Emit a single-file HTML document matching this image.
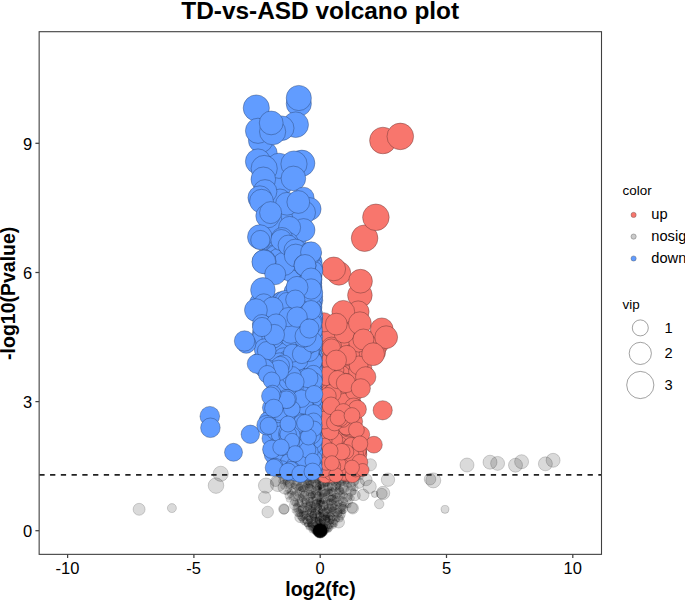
<!DOCTYPE html>
<html><head><meta charset="utf-8"><title>TD-vs-ASD volcano plot</title>
<style>html,body{margin:0;padding:0;background:#fff;}body{width:685px;height:601px;overflow:hidden;font-family:"Liberation Sans",sans-serif;}svg{display:block;}</style></head>
<body>
<svg width="685" height="601" viewBox="0 0 685 601">
<rect width="685" height="601" fill="#fff"/>
<defs><clipPath id="cp"><rect x="39.15" y="31.7" width="562.35" height="522.65"/></clipPath></defs>
<g clip-path="url(#cp)">
<g fill="#000" fill-opacity="0.145" stroke="#000" stroke-opacity="0.3" stroke-width="0.55"><circle cx="139.1" cy="509.3" r="6.0"/><circle cx="171.9" cy="508.1" r="4.5"/><circle cx="267.7" cy="512.0" r="5.8"/><circle cx="283.8" cy="509.0" r="5.2"/><circle cx="284.2" cy="509.3" r="4.8"/><circle cx="275.6" cy="481.3" r="5.2"/><circle cx="285.0" cy="487.1" r="7.0"/><circle cx="300.0" cy="517.4" r="5.2"/><circle cx="220.7" cy="473.8" r="7.6"/><circle cx="216.0" cy="485.6" r="7.8"/><circle cx="266.0" cy="485.6" r="7.6"/><circle cx="264.6" cy="497.3" r="6.1"/><circle cx="277.9" cy="484.0" r="7.6"/></g>
<g fill="#000" fill-opacity="0.145" stroke="#000" stroke-opacity="0.19" stroke-width="0.5"><circle cx="316.5" cy="526.0" r="1.3"/><circle cx="307.2" cy="483.7" r="3.9"/><circle cx="317.9" cy="506.9" r="3.6"/><circle cx="312.8" cy="488.6" r="3.3"/><circle cx="301.2" cy="496.8" r="2.8"/><circle cx="310.2" cy="494.2" r="3.9"/><circle cx="325.7" cy="512.3" r="3.4"/><circle cx="326.2" cy="526.4" r="2.3"/><circle cx="354.0" cy="476.7" r="3.9"/><circle cx="330.0" cy="501.9" r="3.7"/><circle cx="337.6" cy="491.2" r="3.1"/><circle cx="304.0" cy="497.7" r="3.0"/><circle cx="320.1" cy="493.3" r="1.1"/><circle cx="320.2" cy="526.2" r="1.2"/><circle cx="318.3" cy="487.0" r="3.3"/><circle cx="313.7" cy="520.5" r="2.9"/><circle cx="345.5" cy="488.0" r="6.6"/><circle cx="335.3" cy="498.7" r="5.1"/><circle cx="353.3" cy="491.8" r="3.2"/><circle cx="312.7" cy="508.1" r="4.5"/><circle cx="320.0" cy="527.0" r="1.4"/><circle cx="310.2" cy="484.4" r="3.9"/><circle cx="311.5" cy="495.8" r="3.3"/><circle cx="287.9" cy="483.5" r="3.2"/><circle cx="341.0" cy="478.3" r="6.2"/><circle cx="301.7" cy="509.4" r="3.8"/><circle cx="344.3" cy="497.8" r="4.8"/><circle cx="309.7" cy="524.7" r="2.3"/><circle cx="326.8" cy="478.0" r="3.6"/><circle cx="321.7" cy="520.8" r="3.2"/><circle cx="330.3" cy="478.5" r="3.4"/><circle cx="337.8" cy="512.7" r="4.5"/><circle cx="285.6" cy="479.2" r="5.4"/><circle cx="320.0" cy="488.2" r="1.5"/><circle cx="320.2" cy="519.1" r="3.1"/><circle cx="325.6" cy="483.5" r="2.9"/><circle cx="320.3" cy="525.3" r="1.1"/><circle cx="311.1" cy="520.4" r="1.9"/><circle cx="315.4" cy="524.1" r="2.7"/><circle cx="315.6" cy="527.9" r="3.1"/><circle cx="311.7" cy="494.7" r="3.8"/><circle cx="313.8" cy="514.4" r="3.7"/><circle cx="355.2" cy="488.0" r="3.1"/><circle cx="303.3" cy="491.5" r="6.2"/><circle cx="338.6" cy="503.3" r="3.4"/><circle cx="342.5" cy="478.6" r="7.3"/><circle cx="320.6" cy="495.3" r="3.7"/><circle cx="309.1" cy="518.7" r="3.0"/><circle cx="313.2" cy="510.1" r="2.9"/><circle cx="309.6" cy="524.6" r="2.2"/><circle cx="308.8" cy="521.5" r="2.7"/><circle cx="324.8" cy="530.9" r="2.5"/><circle cx="320.4" cy="485.1" r="3.7"/><circle cx="319.6" cy="531.3" r="1.2"/><circle cx="296.3" cy="484.3" r="5.2"/><circle cx="319.8" cy="488.4" r="1.5"/><circle cx="330.3" cy="515.9" r="3.6"/><circle cx="324.2" cy="517.9" r="3.3"/><circle cx="321.5" cy="517.7" r="3.1"/><circle cx="321.1" cy="532.1" r="2.8"/><circle cx="320.4" cy="487.5" r="1.3"/><circle cx="320.0" cy="488.1" r="1.2"/><circle cx="326.0" cy="523.5" r="3.1"/><circle cx="305.1" cy="504.9" r="2.2"/><circle cx="326.1" cy="532.3" r="1.1"/><circle cx="301.9" cy="519.8" r="2.4"/><circle cx="322.4" cy="501.5" r="2.5"/><circle cx="338.8" cy="511.0" r="3.4"/><circle cx="313.2" cy="495.0" r="3.0"/><circle cx="336.1" cy="479.7" r="4.3"/><circle cx="332.0" cy="501.9" r="3.2"/><circle cx="317.0" cy="530.2" r="1.6"/><circle cx="319.1" cy="525.2" r="2.5"/><circle cx="317.3" cy="492.2" r="2.5"/><circle cx="334.1" cy="486.5" r="3.3"/><circle cx="353.6" cy="480.6" r="5.6"/><circle cx="328.5" cy="523.4" r="2.7"/><circle cx="347.2" cy="505.5" r="2.2"/><circle cx="309.0" cy="486.9" r="3.9"/><circle cx="325.0" cy="489.5" r="6.5"/><circle cx="297.0" cy="506.1" r="3.4"/><circle cx="312.4" cy="527.6" r="2.8"/><circle cx="295.8" cy="495.8" r="5.3"/><circle cx="310.7" cy="524.2" r="2.5"/><circle cx="316.5" cy="510.5" r="3.7"/><circle cx="340.8" cy="489.2" r="2.5"/><circle cx="308.5" cy="527.3" r="2.7"/><circle cx="312.8" cy="480.6" r="2.9"/><circle cx="310.9" cy="500.2" r="2.9"/><circle cx="333.9" cy="507.1" r="3.5"/><circle cx="324.1" cy="499.8" r="3.5"/><circle cx="307.9" cy="500.9" r="2.4"/><circle cx="313.9" cy="484.5" r="2.4"/><circle cx="325.0" cy="529.0" r="3.2"/><circle cx="340.8" cy="516.5" r="3.7"/><circle cx="343.8" cy="511.7" r="2.2"/><circle cx="291.1" cy="477.0" r="2.1"/><circle cx="305.7" cy="475.1" r="3.3"/><circle cx="290.8" cy="494.3" r="3.4"/><circle cx="343.0" cy="509.0" r="4.7"/><circle cx="304.9" cy="516.2" r="2.5"/><circle cx="288.1" cy="490.3" r="2.7"/><circle cx="326.6" cy="516.2" r="3.7"/><circle cx="338.1" cy="486.8" r="3.0"/><circle cx="333.6" cy="514.2" r="3.0"/><circle cx="334.2" cy="475.2" r="3.1"/><circle cx="317.0" cy="524.8" r="2.2"/><circle cx="291.7" cy="497.4" r="2.9"/><circle cx="335.8" cy="513.9" r="2.4"/><circle cx="320.1" cy="504.8" r="1.0"/><circle cx="296.9" cy="507.8" r="4.1"/><circle cx="288.3" cy="495.9" r="3.4"/><circle cx="342.9" cy="502.0" r="4.7"/><circle cx="331.1" cy="524.8" r="2.4"/><circle cx="334.4" cy="523.3" r="3.7"/><circle cx="336.8" cy="506.5" r="2.1"/><circle cx="332.6" cy="527.0" r="1.3"/><circle cx="311.1" cy="525.3" r="2.4"/><circle cx="319.6" cy="530.9" r="6.4"/><circle cx="339.8" cy="479.5" r="6.9"/><circle cx="293.6" cy="485.9" r="2.9"/><circle cx="320.4" cy="488.7" r="1.3"/><circle cx="320.0" cy="513.4" r="1.2"/><circle cx="325.8" cy="506.7" r="2.4"/><circle cx="315.0" cy="475.3" r="5.1"/><circle cx="325.9" cy="517.5" r="3.0"/><circle cx="311.9" cy="478.2" r="4.1"/><circle cx="331.3" cy="509.0" r="3.2"/><circle cx="313.4" cy="525.2" r="2.2"/><circle cx="341.4" cy="488.0" r="6.1"/><circle cx="299.7" cy="516.2" r="2.9"/><circle cx="330.6" cy="507.4" r="3.3"/><circle cx="306.7" cy="513.0" r="2.5"/><circle cx="313.0" cy="526.6" r="1.7"/><circle cx="332.2" cy="510.6" r="3.1"/><circle cx="318.2" cy="502.9" r="2.2"/><circle cx="320.0" cy="495.8" r="1.2"/><circle cx="295.6" cy="503.0" r="3.4"/><circle cx="313.8" cy="520.9" r="1.9"/><circle cx="300.0" cy="503.4" r="3.3"/><circle cx="340.3" cy="491.4" r="3.5"/><circle cx="294.4" cy="505.0" r="5.1"/><circle cx="314.0" cy="517.6" r="2.8"/><circle cx="330.5" cy="475.1" r="2.6"/><circle cx="343.9" cy="495.2" r="3.4"/><circle cx="331.6" cy="517.6" r="3.7"/><circle cx="329.8" cy="495.5" r="6.0"/><circle cx="315.0" cy="504.6" r="4.6"/><circle cx="325.5" cy="503.0" r="2.8"/><circle cx="320.4" cy="531.3" r="2.5"/><circle cx="311.8" cy="530.1" r="2.9"/><circle cx="308.1" cy="527.4" r="1.7"/><circle cx="325.2" cy="494.9" r="2.1"/><circle cx="301.8" cy="521.6" r="1.8"/><circle cx="323.4" cy="528.5" r="2.3"/><circle cx="310.9" cy="496.3" r="3.7"/><circle cx="296.5" cy="475.5" r="4.2"/><circle cx="298.9" cy="503.1" r="4.1"/><circle cx="320.3" cy="529.1" r="1.6"/><circle cx="313.0" cy="531.6" r="1.5"/><circle cx="320.4" cy="530.9" r="5.0"/><circle cx="316.9" cy="499.3" r="4.8"/><circle cx="295.7" cy="495.1" r="3.5"/><circle cx="320.4" cy="503.5" r="3.2"/><circle cx="329.5" cy="522.7" r="2.4"/><circle cx="293.0" cy="475.7" r="4.2"/><circle cx="319.9" cy="530.2" r="3.2"/><circle cx="326.5" cy="500.5" r="3.6"/><circle cx="321.6" cy="509.1" r="3.7"/><circle cx="299.2" cy="486.8" r="3.6"/><circle cx="311.0" cy="482.4" r="2.9"/><circle cx="325.9" cy="487.0" r="2.5"/><circle cx="320.2" cy="501.0" r="3.5"/><circle cx="333.3" cy="516.8" r="2.2"/><circle cx="328.6" cy="492.6" r="4.1"/><circle cx="308.5" cy="481.8" r="3.6"/><circle cx="329.8" cy="529.7" r="2.0"/><circle cx="323.6" cy="532.4" r="3.1"/><circle cx="320.2" cy="501.3" r="1.0"/><circle cx="313.9" cy="529.4" r="2.9"/><circle cx="317.8" cy="483.8" r="3.2"/><circle cx="320.2" cy="512.4" r="1.3"/><circle cx="320.4" cy="529.1" r="0.9"/><circle cx="329.8" cy="513.4" r="2.8"/><circle cx="283.8" cy="486.1" r="3.3"/><circle cx="320.4" cy="513.2" r="1.2"/><circle cx="322.7" cy="523.7" r="2.6"/><circle cx="300.8" cy="518.3" r="2.3"/><circle cx="301.9" cy="513.6" r="2.7"/><circle cx="320.3" cy="494.2" r="1.1"/><circle cx="306.3" cy="521.2" r="3.0"/><circle cx="320.3" cy="531.0" r="5.9"/><circle cx="325.3" cy="478.8" r="3.0"/><circle cx="326.0" cy="492.2" r="3.6"/><circle cx="293.1" cy="490.8" r="4.3"/><circle cx="303.7" cy="485.8" r="6.3"/><circle cx="323.9" cy="524.1" r="2.5"/><circle cx="323.0" cy="524.6" r="1.9"/><circle cx="297.4" cy="497.1" r="2.9"/><circle cx="342.8" cy="511.4" r="2.6"/><circle cx="288.9" cy="499.6" r="2.7"/><circle cx="342.4" cy="506.2" r="3.8"/><circle cx="317.1" cy="519.2" r="2.3"/><circle cx="300.2" cy="479.4" r="2.8"/><circle cx="322.8" cy="526.6" r="1.8"/><circle cx="318.6" cy="521.2" r="3.5"/><circle cx="307.7" cy="480.8" r="4.2"/><circle cx="320.0" cy="521.4" r="0.9"/><circle cx="325.7" cy="517.7" r="2.9"/><circle cx="315.9" cy="531.6" r="3.5"/><circle cx="304.5" cy="476.2" r="2.4"/><circle cx="315.6" cy="532.1" r="0.9"/><circle cx="320.4" cy="530.7" r="6.5"/><circle cx="346.2" cy="488.8" r="3.0"/><circle cx="320.1" cy="531.5" r="2.4"/><circle cx="323.8" cy="518.3" r="2.7"/><circle cx="327.1" cy="484.2" r="2.4"/><circle cx="286.2" cy="492.5" r="2.5"/><circle cx="336.1" cy="507.2" r="2.5"/><circle cx="289.2" cy="475.9" r="3.5"/><circle cx="304.9" cy="510.2" r="4.6"/><circle cx="314.4" cy="524.1" r="2.6"/><circle cx="319.5" cy="503.6" r="3.4"/><circle cx="307.7" cy="513.8" r="3.1"/><circle cx="304.1" cy="493.8" r="3.0"/><circle cx="319.8" cy="530.1" r="7.2"/><circle cx="334.8" cy="495.8" r="2.6"/><circle cx="318.9" cy="514.4" r="2.9"/><circle cx="334.7" cy="504.7" r="2.9"/><circle cx="331.5" cy="507.3" r="4.6"/><circle cx="332.6" cy="510.4" r="3.6"/><circle cx="352.2" cy="478.7" r="2.4"/><circle cx="319.0" cy="514.9" r="3.5"/><circle cx="331.2" cy="521.5" r="2.4"/><circle cx="323.8" cy="521.6" r="2.1"/><circle cx="300.3" cy="477.2" r="5.4"/><circle cx="338.9" cy="498.3" r="2.4"/><circle cx="307.8" cy="517.9" r="3.0"/><circle cx="309.2" cy="508.3" r="3.2"/><circle cx="310.0" cy="520.6" r="2.8"/><circle cx="323.7" cy="527.4" r="1.4"/><circle cx="332.0" cy="479.3" r="5.3"/><circle cx="315.6" cy="483.1" r="4.3"/><circle cx="320.3" cy="526.3" r="1.4"/><circle cx="327.0" cy="514.7" r="3.2"/><circle cx="320.1" cy="523.0" r="0.9"/><circle cx="305.5" cy="501.4" r="3.4"/><circle cx="323.5" cy="531.5" r="2.5"/><circle cx="339.4" cy="490.5" r="4.3"/><circle cx="320.0" cy="530.7" r="6.7"/><circle cx="327.4" cy="480.1" r="3.6"/><circle cx="336.8" cy="520.0" r="2.6"/><circle cx="330.5" cy="517.6" r="2.4"/><circle cx="320.0" cy="489.7" r="1.2"/><circle cx="339.6" cy="518.5" r="3.7"/><circle cx="315.5" cy="524.3" r="2.5"/><circle cx="328.2" cy="510.0" r="3.3"/><circle cx="335.4" cy="498.9" r="3.4"/><circle cx="350.9" cy="490.9" r="5.2"/><circle cx="334.1" cy="482.7" r="3.3"/><circle cx="322.8" cy="500.6" r="2.9"/><circle cx="318.3" cy="479.0" r="4.4"/><circle cx="342.0" cy="478.7" r="3.8"/><circle cx="323.8" cy="475.4" r="4.5"/><circle cx="320.8" cy="514.8" r="2.8"/><circle cx="305.6" cy="501.9" r="4.8"/><circle cx="320.2" cy="531.3" r="6.2"/><circle cx="302.4" cy="508.9" r="4.4"/><circle cx="303.3" cy="523.4" r="1.6"/><circle cx="329.7" cy="526.5" r="2.4"/><circle cx="317.6" cy="526.9" r="2.3"/><circle cx="314.4" cy="520.6" r="3.7"/><circle cx="333.7" cy="525.5" r="3.0"/><circle cx="320.7" cy="530.5" r="3.7"/><circle cx="308.9" cy="477.4" r="2.8"/><circle cx="319.2" cy="478.4" r="2.8"/><circle cx="302.6" cy="475.6" r="2.1"/><circle cx="320.0" cy="531.1" r="7.2"/><circle cx="334.3" cy="524.5" r="2.1"/><circle cx="325.1" cy="526.1" r="2.6"/><circle cx="341.5" cy="514.2" r="4.0"/><circle cx="290.0" cy="491.4" r="2.9"/><circle cx="356.7" cy="476.9" r="3.7"/><circle cx="280.0" cy="476.0" r="2.2"/><circle cx="317.5" cy="516.5" r="2.4"/><circle cx="307.4" cy="524.0" r="3.1"/><circle cx="330.8" cy="527.3" r="1.8"/><circle cx="331.1" cy="521.3" r="2.6"/><circle cx="316.2" cy="528.2" r="1.7"/><circle cx="321.9" cy="532.7" r="2.7"/><circle cx="281.1" cy="481.1" r="2.6"/><circle cx="316.8" cy="531.6" r="3.0"/><circle cx="319.8" cy="530.8" r="3.2"/><circle cx="320.0" cy="530.5" r="6.3"/><circle cx="350.1" cy="501.7" r="2.6"/><circle cx="294.0" cy="511.0" r="2.1"/><circle cx="286.3" cy="475.6" r="3.0"/><circle cx="319.6" cy="523.5" r="1.7"/><circle cx="317.2" cy="509.0" r="2.7"/><circle cx="313.5" cy="532.5" r="1.4"/><circle cx="320.2" cy="508.1" r="1.3"/><circle cx="320.4" cy="501.1" r="1.2"/><circle cx="318.8" cy="495.7" r="4.2"/><circle cx="313.0" cy="514.9" r="3.7"/><circle cx="308.4" cy="506.8" r="3.6"/><circle cx="307.7" cy="517.3" r="3.2"/><circle cx="313.2" cy="523.7" r="3.6"/><circle cx="329.3" cy="501.8" r="2.7"/><circle cx="324.3" cy="506.6" r="3.5"/><circle cx="308.8" cy="515.4" r="2.4"/><circle cx="314.5" cy="506.8" r="3.5"/><circle cx="319.5" cy="530.7" r="3.1"/><circle cx="299.8" cy="499.9" r="3.0"/><circle cx="285.3" cy="480.4" r="2.5"/><circle cx="341.9" cy="493.7" r="3.3"/><circle cx="319.6" cy="524.9" r="2.3"/><circle cx="319.4" cy="488.9" r="3.4"/><circle cx="312.0" cy="504.4" r="3.2"/><circle cx="320.6" cy="506.7" r="1.5"/><circle cx="305.7" cy="509.5" r="2.8"/><circle cx="317.7" cy="519.8" r="2.8"/><circle cx="298.1" cy="493.0" r="3.6"/><circle cx="315.7" cy="519.8" r="2.3"/><circle cx="313.8" cy="517.2" r="3.4"/><circle cx="284.3" cy="475.1" r="2.3"/><circle cx="330.5" cy="486.7" r="3.7"/><circle cx="301.9" cy="491.7" r="2.8"/><circle cx="320.2" cy="512.5" r="2.7"/><circle cx="290.2" cy="483.3" r="5.0"/><circle cx="328.6" cy="514.7" r="2.3"/><circle cx="327.3" cy="474.9" r="2.4"/><circle cx="329.9" cy="491.6" r="2.4"/><circle cx="330.7" cy="528.3" r="2.3"/><circle cx="303.0" cy="489.0" r="2.7"/><circle cx="320.3" cy="530.4" r="1.4"/><circle cx="321.6" cy="487.4" r="3.9"/><circle cx="310.3" cy="528.3" r="2.2"/><circle cx="327.8" cy="529.5" r="1.2"/><circle cx="343.1" cy="505.3" r="3.5"/><circle cx="297.9" cy="512.3" r="4.3"/><circle cx="311.2" cy="529.9" r="1.5"/><circle cx="322.6" cy="531.8" r="3.1"/><circle cx="309.7" cy="503.3" r="3.6"/><circle cx="320.4" cy="531.2" r="6.7"/><circle cx="321.9" cy="484.7" r="3.8"/><circle cx="309.4" cy="501.4" r="4.0"/><circle cx="347.9" cy="497.5" r="4.1"/><circle cx="317.3" cy="502.5" r="3.4"/><circle cx="320.8" cy="511.0" r="2.5"/><circle cx="294.4" cy="501.8" r="3.9"/><circle cx="326.3" cy="508.1" r="2.6"/><circle cx="319.7" cy="528.2" r="1.2"/><circle cx="313.5" cy="512.2" r="2.7"/><circle cx="337.1" cy="503.3" r="2.6"/><circle cx="346.0" cy="483.5" r="3.0"/><circle cx="316.2" cy="495.8" r="5.2"/><circle cx="320.3" cy="515.6" r="1.1"/><circle cx="298.3" cy="484.6" r="6.3"/><circle cx="320.1" cy="520.3" r="1.0"/><circle cx="317.7" cy="532.6" r="2.3"/><circle cx="318.7" cy="496.5" r="4.8"/><circle cx="333.0" cy="492.3" r="3.9"/><circle cx="320.1" cy="529.6" r="0.9"/><circle cx="304.8" cy="501.4" r="2.7"/><circle cx="330.2" cy="521.5" r="2.3"/><circle cx="320.2" cy="519.7" r="1.1"/><circle cx="319.7" cy="521.3" r="0.8"/><circle cx="325.3" cy="493.9" r="4.6"/><circle cx="307.0" cy="524.9" r="2.3"/><circle cx="313.8" cy="527.9" r="1.5"/><circle cx="320.4" cy="530.6" r="4.1"/><circle cx="319.8" cy="527.6" r="0.8"/><circle cx="305.1" cy="518.8" r="2.4"/><circle cx="309.8" cy="523.3" r="2.4"/><circle cx="323.4" cy="506.0" r="5.2"/><circle cx="316.7" cy="531.1" r="2.8"/><circle cx="288.5" cy="482.9" r="5.5"/><circle cx="327.7" cy="520.0" r="2.9"/><circle cx="319.5" cy="522.5" r="3.1"/><circle cx="302.3" cy="498.7" r="3.1"/><circle cx="303.3" cy="517.9" r="2.4"/><circle cx="331.0" cy="500.6" r="5.6"/><circle cx="335.8" cy="475.2" r="4.1"/><circle cx="297.4" cy="477.7" r="3.9"/><circle cx="324.6" cy="515.1" r="2.4"/><circle cx="304.2" cy="483.5" r="2.6"/><circle cx="327.2" cy="529.2" r="3.1"/><circle cx="344.5" cy="500.4" r="3.1"/><circle cx="301.0" cy="489.0" r="2.6"/><circle cx="306.2" cy="524.4" r="2.0"/><circle cx="331.2" cy="491.6" r="4.2"/><circle cx="325.9" cy="530.5" r="2.9"/><circle cx="325.3" cy="479.6" r="2.7"/><circle cx="320.3" cy="531.0" r="6.7"/><circle cx="319.2" cy="521.7" r="2.8"/><circle cx="311.5" cy="515.2" r="2.6"/><circle cx="323.1" cy="517.4" r="3.2"/><circle cx="318.6" cy="527.2" r="1.8"/><circle cx="319.3" cy="483.0" r="3.6"/><circle cx="303.6" cy="505.3" r="2.9"/><circle cx="309.8" cy="505.0" r="3.4"/><circle cx="304.5" cy="523.3" r="1.7"/><circle cx="317.5" cy="519.3" r="2.2"/><circle cx="314.6" cy="500.2" r="3.3"/><circle cx="316.4" cy="503.0" r="3.7"/><circle cx="351.6" cy="486.2" r="4.4"/><circle cx="309.6" cy="490.1" r="5.9"/><circle cx="327.8" cy="485.9" r="5.0"/><circle cx="328.1" cy="525.8" r="3.1"/><circle cx="319.5" cy="529.6" r="3.1"/><circle cx="327.6" cy="519.8" r="2.7"/><circle cx="339.1" cy="499.5" r="4.7"/><circle cx="326.5" cy="528.4" r="1.5"/><circle cx="319.9" cy="529.4" r="0.9"/><circle cx="320.5" cy="506.0" r="1.0"/><circle cx="320.3" cy="529.7" r="1.1"/><circle cx="305.1" cy="514.4" r="3.4"/><circle cx="320.1" cy="495.4" r="1.7"/><circle cx="322.1" cy="527.3" r="2.2"/><circle cx="316.5" cy="485.4" r="4.9"/><circle cx="308.3" cy="510.9" r="3.5"/><circle cx="317.1" cy="531.7" r="2.2"/><circle cx="293.3" cy="491.4" r="3.0"/><circle cx="314.3" cy="516.2" r="2.6"/><circle cx="346.5" cy="479.0" r="4.7"/><circle cx="318.5" cy="529.8" r="1.2"/><circle cx="321.6" cy="503.3" r="3.4"/><circle cx="319.6" cy="527.3" r="2.6"/><circle cx="337.3" cy="495.9" r="2.9"/><circle cx="300.1" cy="510.0" r="3.9"/><circle cx="320.0" cy="526.2" r="2.0"/><circle cx="325.8" cy="513.7" r="2.9"/><circle cx="327.1" cy="524.4" r="3.3"/><circle cx="338.9" cy="513.5" r="3.3"/><circle cx="321.5" cy="515.3" r="2.1"/><circle cx="342.8" cy="507.7" r="3.7"/><circle cx="321.5" cy="511.5" r="2.7"/><circle cx="323.6" cy="493.3" r="3.7"/><circle cx="320.3" cy="522.5" r="1.4"/><circle cx="319.8" cy="530.9" r="5.6"/><circle cx="301.4" cy="517.7" r="3.3"/><circle cx="306.8" cy="478.6" r="4.1"/><circle cx="320.0" cy="531.3" r="5.4"/><circle cx="354.7" cy="481.1" r="3.9"/><circle cx="328.2" cy="508.9" r="4.5"/><circle cx="314.5" cy="475.9" r="2.7"/><circle cx="332.3" cy="498.5" r="3.9"/><circle cx="281.3" cy="475.5" r="3.1"/><circle cx="322.8" cy="508.8" r="2.3"/><circle cx="314.6" cy="513.2" r="4.2"/><circle cx="309.7" cy="519.4" r="3.6"/><circle cx="333.8" cy="484.2" r="6.7"/><circle cx="324.5" cy="479.9" r="6.8"/><circle cx="334.3" cy="489.5" r="2.8"/><circle cx="319.9" cy="531.1" r="6.8"/><circle cx="340.2" cy="508.2" r="5.0"/><circle cx="331.9" cy="519.0" r="3.4"/><circle cx="349.1" cy="485.0" r="2.7"/><circle cx="310.3" cy="512.3" r="3.5"/><circle cx="320.1" cy="509.5" r="2.5"/><circle cx="320.1" cy="531.5" r="4.7"/><circle cx="309.8" cy="489.0" r="4.3"/><circle cx="334.7" cy="518.1" r="2.8"/><circle cx="351.8" cy="498.3" r="2.7"/><circle cx="320.0" cy="513.5" r="1.2"/><circle cx="349.7" cy="475.0" r="2.8"/><circle cx="298.8" cy="486.5" r="2.8"/><circle cx="325.3" cy="478.6" r="3.9"/><circle cx="349.5" cy="477.4" r="4.2"/><circle cx="322.7" cy="527.2" r="3.2"/><circle cx="304.3" cy="494.7" r="4.2"/><circle cx="348.5" cy="505.3" r="2.7"/><circle cx="320.3" cy="525.5" r="0.9"/><circle cx="320.3" cy="530.7" r="3.2"/><circle cx="316.8" cy="529.2" r="3.6"/><circle cx="324.7" cy="510.8" r="2.7"/><circle cx="296.8" cy="479.8" r="6.0"/><circle cx="320.4" cy="531.0" r="6.3"/><circle cx="321.7" cy="520.5" r="2.4"/><circle cx="314.7" cy="532.7" r="1.3"/><circle cx="337.6" cy="484.1" r="3.9"/><circle cx="318.0" cy="478.8" r="4.8"/><circle cx="320.3" cy="489.3" r="1.4"/><circle cx="324.1" cy="522.5" r="1.9"/><circle cx="320.6" cy="531.5" r="4.2"/><circle cx="328.2" cy="530.9" r="0.9"/><circle cx="320.1" cy="530.8" r="6.2"/><circle cx="312.5" cy="529.8" r="1.4"/><circle cx="328.1" cy="518.0" r="2.6"/><circle cx="314.0" cy="507.2" r="2.4"/><circle cx="316.6" cy="512.3" r="2.3"/><circle cx="327.1" cy="518.8" r="2.8"/><circle cx="334.5" cy="521.9" r="2.9"/><circle cx="324.4" cy="532.3" r="3.3"/><circle cx="305.2" cy="520.5" r="2.9"/><circle cx="320.3" cy="531.1" r="4.1"/><circle cx="360.6" cy="476.9" r="2.8"/><circle cx="320.2" cy="530.8" r="6.1"/><circle cx="349.8" cy="496.2" r="2.9"/><circle cx="300.0" cy="513.1" r="3.6"/><circle cx="305.8" cy="474.8" r="4.9"/><circle cx="305.3" cy="486.6" r="3.2"/><circle cx="311.7" cy="509.3" r="2.9"/><circle cx="310.2" cy="525.7" r="2.6"/><circle cx="336.0" cy="512.6" r="3.9"/><circle cx="320.4" cy="499.8" r="1.2"/><circle cx="316.5" cy="489.6" r="3.1"/><circle cx="299.2" cy="513.2" r="3.9"/><circle cx="314.9" cy="491.1" r="3.5"/><circle cx="320.2" cy="530.7" r="7.1"/><circle cx="337.5" cy="519.3" r="2.5"/><circle cx="330.9" cy="498.4" r="3.3"/><circle cx="328.6" cy="529.9" r="2.7"/><circle cx="313.8" cy="474.8" r="4.2"/><circle cx="324.8" cy="527.1" r="2.8"/><circle cx="325.9" cy="523.7" r="2.2"/><circle cx="319.9" cy="495.0" r="0.9"/></g>
<g fill="#000" fill-opacity="0.145" stroke="#000" stroke-opacity="0.3" stroke-width="0.55"><circle cx="370.4" cy="464.8" r="6.1"/><circle cx="388.0" cy="479.7" r="6.7"/><circle cx="366.0" cy="479.7" r="6.1"/><circle cx="369.6" cy="486.7" r="6.7"/><circle cx="383.1" cy="493.0" r="6.7"/><circle cx="381.9" cy="493.6" r="5.3"/><circle cx="379.2" cy="504.1" r="4.7"/><circle cx="374.7" cy="494.2" r="3.3"/><circle cx="363.2" cy="494.8" r="5.8"/><circle cx="359.1" cy="483.1" r="5.3"/><circle cx="352.7" cy="508.2" r="5.8"/><circle cx="352.2" cy="507.8" r="5.2"/><circle cx="355.0" cy="495.4" r="5.3"/><circle cx="338.7" cy="522.2" r="5.8"/><circle cx="433.3" cy="480.4" r="7.5"/><circle cx="430.0" cy="479.2" r="5.8"/><circle cx="445.0" cy="509.4" r="4.0"/><circle cx="467.0" cy="465.0" r="7.0"/><circle cx="490.0" cy="462.2" r="7.0"/><circle cx="497.6" cy="463.4" r="7.0"/><circle cx="515.5" cy="465.2" r="7.0"/><circle cx="521.6" cy="461.7" r="7.0"/><circle cx="545.4" cy="463.8" r="7.0"/><circle cx="553.1" cy="460.3" r="7.0"/></g>
<g fill="#F8766D" stroke="#3a2020" stroke-opacity="0.7" stroke-width="0.5"><circle cx="344.9" cy="360.5" r="8.8"/><circle cx="356.1" cy="447.8" r="8.4"/><circle cx="348.3" cy="358.4" r="8.7"/><circle cx="349.6" cy="437.7" r="7.9"/><circle cx="331.9" cy="466.2" r="7.2"/><circle cx="331.6" cy="407.2" r="9.3"/><circle cx="340.6" cy="431.1" r="7.8"/><circle cx="333.8" cy="401.0" r="8.5"/><circle cx="327.0" cy="432.9" r="7.4"/><circle cx="328.6" cy="447.5" r="7.3"/><circle cx="344.4" cy="444.9" r="8.1"/><circle cx="352.6" cy="337.6" r="10.5"/><circle cx="340.8" cy="380.5" r="9.8"/><circle cx="350.9" cy="455.4" r="8.0"/><circle cx="330.4" cy="364.2" r="9.1"/><circle cx="348.7" cy="466.1" r="7.2"/><circle cx="354.0" cy="341.4" r="9.8"/><circle cx="328.5" cy="414.3" r="8.9"/><circle cx="343.1" cy="326.3" r="10.6"/><circle cx="323.6" cy="451.4" r="8.3"/><circle cx="330.3" cy="373.3" r="9.5"/><circle cx="341.4" cy="382.2" r="9.9"/><circle cx="328.8" cy="362.3" r="9.0"/><circle cx="334.2" cy="385.9" r="9.1"/><circle cx="326.7" cy="367.3" r="10.0"/><circle cx="323.1" cy="384.6" r="8.8"/><circle cx="338.5" cy="370.3" r="9.8"/><circle cx="357.9" cy="371.9" r="10.1"/><circle cx="342.8" cy="342.5" r="9.1"/><circle cx="336.6" cy="413.4" r="7.8"/><circle cx="363.7" cy="373.2" r="9.2"/><circle cx="340.5" cy="324.5" r="10.8"/><circle cx="358.3" cy="463.0" r="7.1"/><circle cx="324.1" cy="456.1" r="7.1"/><circle cx="371.1" cy="340.1" r="9.2"/><circle cx="358.9" cy="453.0" r="7.8"/><circle cx="357.6" cy="445.6" r="7.7"/><circle cx="358.4" cy="449.2" r="8.4"/><circle cx="326.6" cy="449.5" r="7.5"/><circle cx="324.1" cy="408.5" r="8.1"/><circle cx="349.7" cy="414.3" r="9.0"/><circle cx="333.7" cy="393.0" r="9.5"/><circle cx="342.9" cy="455.9" r="7.8"/><circle cx="346.7" cy="474.3" r="7.4"/><circle cx="326.3" cy="372.5" r="8.7"/><circle cx="357.3" cy="377.7" r="9.7"/><circle cx="325.6" cy="467.6" r="7.2"/><circle cx="334.2" cy="463.3" r="8.1"/><circle cx="348.6" cy="384.5" r="8.6"/><circle cx="331.7" cy="435.5" r="8.3"/><circle cx="323.3" cy="424.9" r="8.1"/><circle cx="325.3" cy="402.1" r="8.3"/><circle cx="350.4" cy="403.6" r="9.0"/><circle cx="330.7" cy="401.9" r="8.5"/><circle cx="350.5" cy="443.8" r="8.5"/><circle cx="352.8" cy="402.9" r="8.2"/><circle cx="382.0" cy="339.1" r="10.2"/><circle cx="338.6" cy="339.0" r="10.2"/><circle cx="341.3" cy="345.6" r="9.0"/><circle cx="339.1" cy="424.5" r="8.1"/><circle cx="325.8" cy="473.7" r="7.7"/><circle cx="346.9" cy="387.1" r="9.2"/><circle cx="349.6" cy="358.7" r="9.7"/><circle cx="326.2" cy="381.4" r="9.0"/><circle cx="338.3" cy="428.6" r="8.4"/><circle cx="350.3" cy="413.7" r="8.6"/><circle cx="322.6" cy="450.7" r="7.2"/><circle cx="331.5" cy="412.4" r="8.0"/><circle cx="334.9" cy="372.6" r="9.7"/><circle cx="334.6" cy="425.6" r="7.8"/><circle cx="356.1" cy="445.2" r="7.8"/><circle cx="358.6" cy="454.5" r="8.2"/><circle cx="338.8" cy="393.1" r="9.6"/><circle cx="325.1" cy="438.1" r="7.3"/><circle cx="330.9" cy="456.2" r="7.5"/><circle cx="350.5" cy="389.5" r="9.0"/><circle cx="354.4" cy="471.4" r="8.0"/><circle cx="354.7" cy="436.4" r="8.5"/><circle cx="346.1" cy="412.6" r="9.0"/><circle cx="330.3" cy="389.9" r="9.3"/><circle cx="358.3" cy="438.5" r="7.7"/><circle cx="325.9" cy="430.9" r="7.8"/><circle cx="323.9" cy="412.3" r="8.4"/><circle cx="332.7" cy="399.8" r="8.3"/><circle cx="349.3" cy="467.2" r="8.1"/><circle cx="326.4" cy="457.6" r="7.3"/><circle cx="346.0" cy="464.0" r="8.1"/><circle cx="328.7" cy="417.1" r="7.8"/><circle cx="338.9" cy="456.9" r="7.6"/><circle cx="345.1" cy="473.6" r="7.5"/><circle cx="349.0" cy="383.8" r="8.6"/><circle cx="341.7" cy="362.6" r="8.7"/><circle cx="328.9" cy="455.0" r="8.2"/><circle cx="325.4" cy="379.9" r="8.6"/><circle cx="363.1" cy="367.7" r="8.7"/><circle cx="345.0" cy="410.5" r="8.4"/><circle cx="340.6" cy="446.5" r="7.7"/><circle cx="351.4" cy="339.5" r="10.7"/><circle cx="325.0" cy="473.4" r="7.3"/><circle cx="339.9" cy="458.4" r="8.1"/><circle cx="343.5" cy="362.8" r="8.7"/><circle cx="325.1" cy="363.9" r="9.0"/><circle cx="330.4" cy="470.4" r="6.9"/><circle cx="338.0" cy="413.5" r="9.2"/><circle cx="342.1" cy="437.3" r="7.6"/><circle cx="377.7" cy="344.9" r="10.3"/><circle cx="348.9" cy="472.4" r="7.0"/><circle cx="344.1" cy="472.9" r="7.5"/><circle cx="342.7" cy="459.2" r="7.0"/><circle cx="354.7" cy="383.3" r="9.3"/><circle cx="338.6" cy="455.7" r="8.3"/><circle cx="344.4" cy="431.1" r="7.5"/><circle cx="331.8" cy="432.8" r="7.8"/><circle cx="322.6" cy="446.6" r="7.3"/><circle cx="376.2" cy="352.4" r="9.4"/><circle cx="330.4" cy="474.8" r="7.9"/><circle cx="335.4" cy="460.8" r="7.3"/><circle cx="342.5" cy="380.5" r="8.6"/><circle cx="329.0" cy="407.8" r="9.0"/><circle cx="330.9" cy="357.6" r="9.5"/><circle cx="327.2" cy="414.8" r="8.2"/><circle cx="326.3" cy="337.0" r="10.3"/><circle cx="323.7" cy="430.0" r="7.8"/><circle cx="333.2" cy="436.1" r="8.4"/><circle cx="334.5" cy="453.8" r="7.7"/><circle cx="343.1" cy="401.2" r="8.2"/><circle cx="352.9" cy="384.4" r="9.3"/><circle cx="352.5" cy="475.2" r="7.4"/><circle cx="342.9" cy="450.7" r="7.0"/><circle cx="339.1" cy="425.8" r="7.9"/><circle cx="323.1" cy="458.8" r="7.9"/><circle cx="325.8" cy="474.2" r="6.7"/><circle cx="326.1" cy="411.2" r="8.8"/><circle cx="358.5" cy="461.3" r="7.4"/><circle cx="323.3" cy="451.8" r="8.3"/><circle cx="355.6" cy="469.9" r="7.0"/><circle cx="336.0" cy="447.0" r="8.3"/><circle cx="329.5" cy="420.5" r="8.8"/><circle cx="370.6" cy="354.1" r="8.8"/><circle cx="327.6" cy="456.4" r="8.2"/><circle cx="332.4" cy="367.1" r="9.6"/><circle cx="353.0" cy="437.8" r="8.6"/><circle cx="347.6" cy="375.6" r="10.0"/><circle cx="358.5" cy="375.6" r="8.4"/><circle cx="330.3" cy="391.6" r="9.0"/><circle cx="335.2" cy="330.9" r="10.5"/><circle cx="357.9" cy="451.1" r="8.2"/><circle cx="340.5" cy="354.7" r="10.0"/><circle cx="323.2" cy="443.6" r="7.7"/><circle cx="328.5" cy="403.3" r="8.9"/><circle cx="324.5" cy="401.5" r="9.4"/><circle cx="330.2" cy="468.3" r="7.6"/><circle cx="325.4" cy="426.2" r="8.0"/><circle cx="325.9" cy="426.3" r="8.2"/><circle cx="337.2" cy="450.4" r="7.0"/><circle cx="338.5" cy="397.1" r="8.4"/><circle cx="332.9" cy="346.9" r="10.3"/><circle cx="330.2" cy="402.8" r="9.0"/><circle cx="341.3" cy="404.7" r="8.8"/><circle cx="348.5" cy="429.6" r="8.4"/><circle cx="335.6" cy="398.9" r="8.5"/><circle cx="326.7" cy="430.7" r="7.9"/><circle cx="350.7" cy="433.0" r="8.6"/><circle cx="327.9" cy="427.8" r="8.2"/><circle cx="351.3" cy="446.8" r="7.4"/><circle cx="339.5" cy="448.7" r="7.6"/><circle cx="352.0" cy="380.2" r="9.7"/><circle cx="348.0" cy="462.8" r="7.0"/><circle cx="349.9" cy="460.9" r="8.0"/><circle cx="335.2" cy="466.9" r="7.2"/><circle cx="343.9" cy="442.8" r="7.6"/><circle cx="359.3" cy="388.1" r="8.2"/><circle cx="324.2" cy="445.3" r="7.8"/><circle cx="331.6" cy="393.8" r="8.7"/><circle cx="341.7" cy="374.4" r="8.7"/><circle cx="331.3" cy="433.5" r="8.8"/><circle cx="334.9" cy="369.9" r="9.0"/><circle cx="330.3" cy="403.8" r="8.8"/><circle cx="328.1" cy="440.8" r="8.7"/><circle cx="325.2" cy="371.7" r="9.9"/><circle cx="339.7" cy="440.4" r="8.4"/><circle cx="344.2" cy="427.3" r="7.5"/><circle cx="340.7" cy="405.5" r="9.4"/><circle cx="344.5" cy="443.0" r="7.4"/><circle cx="338.3" cy="353.0" r="9.8"/><circle cx="338.6" cy="353.6" r="10.4"/><circle cx="325.2" cy="413.8" r="7.8"/><circle cx="345.5" cy="438.2" r="8.7"/><circle cx="325.2" cy="367.8" r="9.5"/><circle cx="338.1" cy="443.8" r="7.4"/><circle cx="353.5" cy="445.7" r="7.4"/><circle cx="357.6" cy="352.2" r="9.8"/><circle cx="339.5" cy="445.0" r="8.5"/><circle cx="344.8" cy="343.3" r="9.1"/><circle cx="325.3" cy="475.2" r="7.7"/><circle cx="338.4" cy="350.3" r="10.6"/><circle cx="324.5" cy="437.2" r="8.7"/><circle cx="368.4" cy="353.2" r="9.2"/><circle cx="330.4" cy="408.0" r="9.3"/><circle cx="332.6" cy="472.5" r="7.6"/><circle cx="331.2" cy="472.8" r="7.5"/><circle cx="354.8" cy="444.9" r="7.6"/><circle cx="336.0" cy="347.9" r="9.4"/><circle cx="346.2" cy="410.8" r="8.7"/><circle cx="349.4" cy="446.1" r="7.2"/><circle cx="358.7" cy="371.7" r="10.1"/><circle cx="334.8" cy="329.0" r="10.5"/><circle cx="337.7" cy="393.2" r="9.5"/><circle cx="348.8" cy="341.7" r="10.0"/><circle cx="338.3" cy="427.6" r="8.3"/><circle cx="329.5" cy="397.9" r="8.2"/><circle cx="330.9" cy="360.9" r="9.6"/><circle cx="351.1" cy="444.9" r="7.4"/><circle cx="348.2" cy="428.7" r="8.2"/><circle cx="328.6" cy="467.0" r="7.0"/><circle cx="330.9" cy="421.6" r="8.6"/><circle cx="341.3" cy="338.6" r="9.8"/><circle cx="339.1" cy="411.8" r="8.5"/><circle cx="324.5" cy="432.8" r="8.3"/><circle cx="351.2" cy="461.9" r="7.5"/><circle cx="327.2" cy="376.2" r="9.5"/><circle cx="346.1" cy="426.9" r="8.1"/><circle cx="338.6" cy="464.3" r="7.5"/><circle cx="339.0" cy="382.5" r="9.9"/><circle cx="332.6" cy="419.3" r="8.8"/><circle cx="353.9" cy="421.5" r="8.7"/><circle cx="344.6" cy="402.7" r="9.4"/><circle cx="324.1" cy="462.9" r="7.0"/><circle cx="324.9" cy="433.8" r="8.4"/><circle cx="322.7" cy="460.0" r="7.2"/><circle cx="356.1" cy="454.4" r="7.5"/><circle cx="347.6" cy="427.2" r="8.1"/><circle cx="358.6" cy="365.4" r="9.4"/><circle cx="326.3" cy="456.7" r="8.0"/><circle cx="354.7" cy="391.6" r="9.0"/><circle cx="333.5" cy="466.3" r="7.2"/><circle cx="346.6" cy="426.4" r="8.6"/><circle cx="323.6" cy="469.6" r="7.8"/><circle cx="332.4" cy="438.5" r="8.3"/><circle cx="323.9" cy="445.1" r="8.2"/><circle cx="332.1" cy="393.3" r="9.0"/><circle cx="327.8" cy="395.9" r="8.4"/><circle cx="326.3" cy="463.4" r="6.9"/><circle cx="334.3" cy="439.8" r="8.4"/><circle cx="330.6" cy="335.8" r="9.9"/><circle cx="331.6" cy="347.3" r="10.2"/><circle cx="335.9" cy="475.1" r="7.2"/><circle cx="358.7" cy="342.2" r="9.9"/><circle cx="351.6" cy="455.2" r="7.5"/><circle cx="330.7" cy="406.5" r="7.9"/><circle cx="346.7" cy="451.8" r="7.1"/><circle cx="341.7" cy="451.7" r="8.3"/><circle cx="323.7" cy="441.0" r="8.4"/><circle cx="330.3" cy="431.2" r="8.6"/><circle cx="342.5" cy="419.0" r="8.4"/><circle cx="345.1" cy="382.1" r="8.9"/><circle cx="324.4" cy="445.5" r="7.3"/><circle cx="324.1" cy="420.1" r="8.9"/><circle cx="334.6" cy="422.8" r="8.1"/><circle cx="340.3" cy="418.5" r="8.0"/><circle cx="382.9" cy="140.5" r="13.3"/><circle cx="400.3" cy="136.4" r="13.3"/><circle cx="364.6" cy="238.2" r="13.3"/><circle cx="375.9" cy="217.3" r="13.3"/><circle cx="338.9" cy="273.3" r="11.9"/><circle cx="333.7" cy="268.9" r="11.9"/><circle cx="359.9" cy="295.2" r="12.3"/><circle cx="360.5" cy="281.2" r="11.9"/><circle cx="358.2" cy="311.8" r="10.9"/><circle cx="343.3" cy="311.8" r="11.4"/><circle cx="324.0" cy="322.3" r="9.6"/><circle cx="344.2" cy="332.9" r="10.2"/><circle cx="336.3" cy="324.1" r="10.9"/><circle cx="359.9" cy="323.2" r="11.4"/><circle cx="381.8" cy="329.3" r="11.4"/><circle cx="386.2" cy="337.2" r="11.4"/><circle cx="363.4" cy="339.5" r="10.5"/><circle cx="373.1" cy="354.2" r="11.4"/><circle cx="331.4" cy="348.0" r="9.1"/><circle cx="346.8" cy="355.0" r="9.6"/><circle cx="336.3" cy="360.3" r="10.2"/><circle cx="365.7" cy="376.9" r="10.2"/><circle cx="337.7" cy="379.6" r="9.1"/><circle cx="345.9" cy="383.1" r="9.6"/><circle cx="360.8" cy="388.3" r="9.6"/><circle cx="382.7" cy="410.3" r="9.6"/><circle cx="353.8" cy="407.6" r="9.6"/><circle cx="357.3" cy="409.3" r="9.1"/><circle cx="331.0" cy="405.8" r="8.8"/><circle cx="343.3" cy="412.0" r="8.4"/><circle cx="338.0" cy="418.0" r="7.9"/><circle cx="352.0" cy="415.5" r="7.9"/><circle cx="361.5" cy="434.5" r="8.2"/><circle cx="373.9" cy="444.7" r="8.4"/><circle cx="356.4" cy="429.8" r="7.9"/><circle cx="359.9" cy="443.8" r="7.9"/><circle cx="359.9" cy="462.2" r="7.9"/><circle cx="362.6" cy="470.0" r="6.5"/><circle cx="330.1" cy="450.8" r="7.9"/><circle cx="331.9" cy="463.1" r="7.4"/><circle cx="352.0" cy="467.5" r="7.4"/></g>
<g fill="#619CFF" stroke="#1a2a4a" stroke-opacity="0.7" stroke-width="0.5"><circle cx="270.8" cy="438.5" r="8.8"/><circle cx="279.5" cy="186.0" r="11.8"/><circle cx="277.0" cy="226.0" r="11.2"/><circle cx="272.5" cy="246.0" r="10.8"/><circle cx="280.0" cy="200.0" r="11.0"/><circle cx="292.0" cy="216.0" r="11.0"/><circle cx="275.0" cy="255.0" r="10.5"/><circle cx="296.0" cy="238.0" r="10.5"/><circle cx="285.0" cy="262.0" r="10.5"/><circle cx="300.0" cy="276.0" r="10.2"/><circle cx="303.0" cy="300.0" r="9.8"/><circle cx="301.3" cy="381.2" r="9.6"/><circle cx="291.3" cy="380.4" r="9.2"/><circle cx="314.1" cy="451.2" r="8.1"/><circle cx="312.5" cy="385.6" r="9.7"/><circle cx="280.0" cy="319.9" r="10.9"/><circle cx="278.9" cy="361.9" r="9.1"/><circle cx="287.6" cy="418.7" r="8.3"/><circle cx="272.1" cy="304.5" r="10.4"/><circle cx="314.7" cy="462.1" r="7.1"/><circle cx="312.8" cy="366.2" r="9.7"/><circle cx="289.4" cy="473.6" r="6.9"/><circle cx="299.0" cy="279.3" r="11.8"/><circle cx="303.4" cy="340.9" r="9.3"/><circle cx="299.4" cy="448.3" r="7.9"/><circle cx="296.0" cy="417.9" r="8.4"/><circle cx="306.0" cy="414.3" r="7.9"/><circle cx="287.9" cy="417.1" r="9.0"/><circle cx="290.3" cy="252.4" r="11.4"/><circle cx="313.6" cy="354.9" r="9.0"/><circle cx="311.1" cy="448.7" r="7.5"/><circle cx="311.0" cy="364.5" r="9.4"/><circle cx="298.7" cy="402.4" r="8.5"/><circle cx="291.3" cy="435.7" r="7.8"/><circle cx="305.2" cy="425.2" r="7.9"/><circle cx="279.5" cy="326.6" r="9.9"/><circle cx="292.9" cy="389.2" r="9.1"/><circle cx="290.8" cy="375.9" r="9.0"/><circle cx="306.4" cy="460.9" r="7.8"/><circle cx="271.1" cy="416.5" r="8.6"/><circle cx="297.8" cy="275.1" r="11.0"/><circle cx="278.1" cy="442.3" r="7.5"/><circle cx="276.4" cy="331.5" r="10.6"/><circle cx="267.9" cy="352.7" r="9.8"/><circle cx="280.0" cy="420.1" r="7.9"/><circle cx="305.2" cy="457.9" r="8.1"/><circle cx="299.1" cy="469.6" r="7.3"/><circle cx="262.1" cy="364.4" r="10.2"/><circle cx="311.4" cy="327.3" r="10.8"/><circle cx="312.6" cy="421.5" r="8.4"/><circle cx="311.8" cy="397.9" r="9.4"/><circle cx="275.4" cy="421.8" r="8.6"/><circle cx="309.8" cy="294.2" r="11.6"/><circle cx="305.7" cy="433.7" r="7.8"/><circle cx="295.6" cy="469.1" r="6.9"/><circle cx="289.5" cy="396.3" r="8.2"/><circle cx="286.3" cy="329.6" r="9.9"/><circle cx="287.3" cy="450.7" r="8.1"/><circle cx="284.9" cy="464.0" r="8.1"/><circle cx="308.8" cy="473.1" r="7.4"/><circle cx="306.7" cy="268.7" r="11.2"/><circle cx="276.3" cy="460.7" r="7.9"/><circle cx="288.9" cy="408.3" r="8.5"/><circle cx="301.3" cy="410.7" r="8.0"/><circle cx="308.9" cy="425.4" r="7.7"/><circle cx="290.3" cy="464.9" r="7.1"/><circle cx="295.8" cy="304.6" r="10.0"/><circle cx="278.0" cy="399.4" r="9.2"/><circle cx="271.1" cy="450.6" r="7.9"/><circle cx="273.6" cy="449.5" r="8.4"/><circle cx="311.3" cy="432.7" r="8.2"/><circle cx="313.7" cy="450.4" r="8.3"/><circle cx="293.2" cy="358.9" r="9.5"/><circle cx="309.3" cy="453.6" r="8.3"/><circle cx="307.9" cy="450.9" r="7.7"/><circle cx="311.5" cy="349.6" r="10.5"/><circle cx="307.0" cy="456.4" r="7.9"/><circle cx="297.8" cy="431.3" r="8.2"/><circle cx="301.2" cy="463.5" r="7.6"/><circle cx="286.9" cy="448.9" r="7.4"/><circle cx="311.2" cy="448.1" r="8.1"/><circle cx="304.5" cy="290.9" r="10.4"/><circle cx="301.7" cy="466.0" r="7.5"/><circle cx="297.3" cy="412.0" r="8.5"/><circle cx="300.6" cy="414.0" r="8.9"/><circle cx="314.1" cy="463.0" r="8.0"/><circle cx="275.9" cy="263.9" r="10.6"/><circle cx="290.1" cy="443.4" r="7.7"/><circle cx="313.2" cy="360.3" r="9.2"/><circle cx="310.8" cy="402.0" r="8.9"/><circle cx="302.1" cy="434.1" r="8.0"/><circle cx="303.0" cy="393.2" r="8.5"/><circle cx="302.4" cy="463.0" r="7.3"/><circle cx="313.5" cy="403.9" r="8.9"/><circle cx="280.6" cy="328.7" r="9.8"/><circle cx="280.0" cy="469.7" r="7.3"/><circle cx="299.0" cy="351.5" r="10.3"/><circle cx="312.9" cy="409.2" r="9.1"/><circle cx="304.6" cy="441.0" r="8.4"/><circle cx="305.0" cy="275.1" r="11.6"/><circle cx="315.3" cy="471.0" r="7.5"/><circle cx="285.1" cy="361.1" r="9.2"/><circle cx="313.4" cy="433.6" r="8.4"/><circle cx="301.2" cy="461.8" r="7.7"/><circle cx="261.8" cy="333.7" r="9.6"/><circle cx="287.9" cy="313.0" r="10.2"/><circle cx="303.5" cy="437.5" r="8.5"/><circle cx="280.3" cy="378.7" r="8.7"/><circle cx="308.9" cy="308.3" r="11.0"/><circle cx="311.2" cy="417.2" r="9.0"/><circle cx="310.1" cy="423.0" r="8.5"/><circle cx="292.5" cy="382.0" r="8.5"/><circle cx="313.1" cy="377.6" r="9.5"/><circle cx="288.3" cy="396.0" r="8.2"/><circle cx="271.2" cy="370.5" r="10.0"/><circle cx="311.7" cy="433.5" r="7.7"/><circle cx="276.4" cy="256.7" r="11.6"/><circle cx="268.2" cy="369.6" r="9.3"/><circle cx="314.4" cy="443.3" r="7.9"/><circle cx="310.6" cy="341.8" r="9.7"/><circle cx="285.7" cy="445.2" r="7.8"/><circle cx="281.2" cy="303.1" r="11.0"/><circle cx="292.7" cy="411.8" r="8.7"/><circle cx="308.9" cy="344.1" r="10.2"/><circle cx="274.2" cy="455.3" r="8.3"/><circle cx="302.5" cy="359.6" r="10.1"/><circle cx="276.0" cy="409.4" r="8.1"/><circle cx="310.8" cy="456.1" r="8.0"/><circle cx="308.7" cy="452.7" r="7.3"/><circle cx="304.1" cy="430.3" r="8.0"/><circle cx="292.0" cy="299.6" r="11.1"/><circle cx="289.2" cy="468.7" r="7.7"/><circle cx="312.3" cy="336.4" r="10.4"/><circle cx="307.1" cy="305.4" r="10.0"/><circle cx="288.8" cy="313.6" r="10.9"/><circle cx="308.5" cy="426.0" r="8.2"/><circle cx="266.2" cy="327.2" r="9.5"/><circle cx="276.0" cy="393.1" r="9.1"/><circle cx="295.2" cy="438.1" r="7.6"/><circle cx="301.4" cy="438.1" r="8.2"/><circle cx="312.1" cy="345.0" r="10.2"/><circle cx="313.0" cy="300.6" r="9.8"/><circle cx="310.6" cy="350.7" r="9.4"/><circle cx="313.8" cy="464.3" r="8.1"/><circle cx="301.0" cy="453.8" r="7.9"/><circle cx="273.9" cy="421.7" r="7.8"/><circle cx="311.8" cy="464.8" r="7.5"/><circle cx="311.6" cy="318.8" r="11.1"/><circle cx="277.8" cy="419.7" r="8.9"/><circle cx="274.4" cy="414.1" r="8.9"/><circle cx="305.7" cy="396.9" r="9.4"/><circle cx="307.9" cy="397.7" r="9.5"/><circle cx="298.0" cy="463.7" r="7.6"/><circle cx="308.9" cy="452.9" r="7.3"/><circle cx="274.8" cy="334.3" r="10.0"/><circle cx="299.7" cy="377.8" r="8.9"/><circle cx="287.2" cy="421.3" r="8.9"/><circle cx="280.6" cy="467.6" r="7.6"/><circle cx="281.4" cy="452.5" r="8.2"/><circle cx="307.7" cy="290.6" r="11.3"/><circle cx="275.0" cy="463.7" r="8.0"/><circle cx="269.6" cy="360.4" r="9.6"/><circle cx="298.3" cy="302.6" r="11.5"/><circle cx="276.3" cy="374.3" r="9.0"/><circle cx="305.4" cy="401.5" r="9.4"/><circle cx="275.3" cy="316.5" r="10.2"/><circle cx="273.5" cy="326.2" r="9.5"/><circle cx="273.8" cy="354.5" r="10.4"/><circle cx="289.5" cy="387.6" r="8.7"/><circle cx="268.7" cy="312.6" r="10.4"/><circle cx="305.2" cy="307.3" r="9.9"/><circle cx="295.3" cy="443.1" r="8.1"/><circle cx="293.5" cy="423.2" r="7.9"/><circle cx="262.8" cy="336.9" r="10.3"/><circle cx="310.7" cy="389.2" r="9.3"/><circle cx="274.0" cy="367.3" r="9.4"/><circle cx="283.5" cy="269.2" r="10.8"/><circle cx="311.7" cy="410.7" r="8.0"/><circle cx="313.4" cy="389.8" r="8.4"/><circle cx="276.6" cy="366.0" r="8.9"/><circle cx="277.8" cy="374.8" r="8.8"/><circle cx="285.4" cy="419.4" r="9.0"/><circle cx="295.9" cy="412.4" r="8.4"/><circle cx="311.6" cy="305.9" r="10.2"/><circle cx="282.6" cy="401.9" r="8.5"/><circle cx="312.6" cy="432.8" r="8.3"/><circle cx="313.1" cy="366.4" r="8.8"/><circle cx="304.6" cy="433.9" r="8.5"/><circle cx="313.1" cy="467.7" r="7.4"/><circle cx="314.5" cy="456.1" r="7.8"/><circle cx="311.0" cy="287.2" r="11.0"/><circle cx="310.6" cy="276.3" r="11.3"/><circle cx="307.1" cy="471.9" r="7.2"/><circle cx="285.4" cy="463.9" r="7.2"/><circle cx="311.2" cy="283.3" r="10.6"/><circle cx="303.6" cy="337.0" r="9.9"/><circle cx="313.0" cy="424.3" r="8.3"/><circle cx="275.7" cy="379.3" r="10.0"/><circle cx="311.8" cy="455.2" r="8.1"/><circle cx="291.6" cy="452.0" r="7.6"/><circle cx="312.9" cy="315.2" r="9.9"/><circle cx="309.5" cy="282.4" r="10.2"/><circle cx="310.7" cy="262.0" r="11.4"/><circle cx="305.5" cy="453.4" r="7.9"/><circle cx="303.5" cy="438.0" r="8.7"/><circle cx="289.2" cy="358.9" r="8.9"/><circle cx="307.4" cy="427.3" r="7.7"/><circle cx="301.2" cy="355.8" r="9.4"/><circle cx="265.4" cy="364.3" r="9.8"/><circle cx="292.1" cy="370.0" r="8.8"/><circle cx="307.3" cy="294.1" r="11.0"/><circle cx="314.6" cy="452.6" r="7.9"/><circle cx="291.3" cy="390.7" r="8.9"/><circle cx="282.0" cy="433.6" r="7.5"/><circle cx="269.0" cy="354.9" r="9.8"/><circle cx="293.7" cy="405.3" r="8.9"/><circle cx="259.8" cy="362.0" r="9.4"/><circle cx="263.0" cy="300.6" r="10.2"/><circle cx="312.3" cy="391.8" r="8.3"/><circle cx="274.0" cy="367.0" r="9.2"/><circle cx="270.4" cy="307.6" r="10.6"/><circle cx="280.2" cy="329.6" r="9.5"/><circle cx="290.0" cy="417.2" r="8.7"/><circle cx="303.1" cy="413.5" r="8.8"/><circle cx="274.1" cy="310.0" r="10.6"/><circle cx="308.9" cy="431.6" r="8.7"/><circle cx="313.5" cy="369.9" r="8.8"/><circle cx="276.5" cy="428.1" r="7.7"/><circle cx="277.6" cy="391.5" r="8.4"/><circle cx="304.1" cy="402.9" r="9.2"/><circle cx="284.9" cy="430.9" r="7.6"/><circle cx="274.7" cy="431.8" r="7.8"/><circle cx="278.4" cy="259.3" r="10.8"/><circle cx="292.1" cy="467.9" r="8.0"/><circle cx="291.6" cy="305.4" r="9.8"/><circle cx="313.8" cy="416.2" r="8.2"/><circle cx="313.5" cy="434.8" r="8.4"/><circle cx="312.3" cy="438.1" r="7.9"/><circle cx="281.8" cy="351.0" r="9.3"/><circle cx="288.8" cy="438.7" r="8.0"/><circle cx="313.9" cy="446.8" r="7.9"/><circle cx="297.1" cy="463.4" r="8.0"/><circle cx="309.5" cy="410.9" r="8.4"/><circle cx="301.1" cy="359.6" r="10.1"/><circle cx="291.6" cy="314.6" r="9.8"/><circle cx="285.0" cy="394.6" r="8.4"/><circle cx="285.1" cy="410.3" r="8.2"/><circle cx="285.7" cy="436.8" r="8.6"/><circle cx="306.1" cy="392.6" r="8.9"/><circle cx="294.0" cy="386.0" r="9.1"/><circle cx="291.1" cy="306.1" r="11.0"/><circle cx="297.4" cy="392.5" r="9.5"/><circle cx="293.0" cy="416.9" r="8.8"/><circle cx="309.0" cy="410.9" r="8.4"/><circle cx="303.8" cy="327.7" r="10.4"/><circle cx="311.2" cy="331.6" r="10.8"/><circle cx="279.6" cy="334.4" r="9.4"/><circle cx="272.5" cy="454.9" r="8.2"/><circle cx="271.8" cy="320.0" r="9.6"/><circle cx="308.3" cy="412.2" r="8.0"/><circle cx="298.4" cy="408.2" r="9.3"/><circle cx="305.1" cy="424.5" r="9.0"/><circle cx="293.8" cy="459.4" r="8.1"/><circle cx="284.4" cy="425.3" r="8.5"/><circle cx="294.4" cy="434.1" r="7.6"/><circle cx="295.6" cy="464.2" r="7.3"/><circle cx="260.5" cy="303.4" r="11.0"/><circle cx="285.2" cy="397.7" r="9.2"/><circle cx="306.1" cy="391.1" r="8.9"/><circle cx="280.3" cy="454.3" r="7.9"/><circle cx="272.8" cy="337.3" r="10.9"/><circle cx="304.4" cy="433.1" r="7.9"/><circle cx="314.0" cy="425.3" r="8.3"/><circle cx="312.0" cy="296.5" r="10.6"/><circle cx="314.0" cy="468.4" r="7.0"/><circle cx="280.5" cy="469.2" r="7.5"/><circle cx="283.0" cy="406.0" r="9.0"/><circle cx="296.6" cy="363.6" r="10.1"/><circle cx="290.6" cy="270.0" r="11.4"/><circle cx="292.0" cy="453.8" r="7.9"/><circle cx="291.7" cy="455.8" r="7.1"/><circle cx="311.6" cy="459.9" r="7.3"/><circle cx="312.8" cy="458.7" r="7.3"/><circle cx="292.6" cy="409.4" r="8.7"/><circle cx="305.9" cy="378.1" r="9.8"/><circle cx="313.0" cy="435.7" r="7.5"/><circle cx="308.7" cy="445.3" r="7.5"/><circle cx="313.9" cy="439.9" r="8.6"/><circle cx="308.0" cy="460.5" r="7.3"/><circle cx="311.6" cy="322.1" r="10.7"/><circle cx="300.9" cy="426.6" r="8.0"/><circle cx="290.2" cy="401.5" r="8.2"/><circle cx="268.5" cy="322.5" r="10.7"/><circle cx="290.3" cy="336.6" r="10.0"/><circle cx="308.9" cy="472.0" r="7.4"/><circle cx="312.9" cy="379.5" r="9.1"/><circle cx="282.3" cy="301.5" r="10.1"/><circle cx="283.8" cy="358.1" r="10.4"/><circle cx="296.1" cy="326.0" r="11.1"/><circle cx="278.3" cy="413.4" r="9.3"/><circle cx="299.6" cy="460.7" r="7.1"/><circle cx="282.4" cy="438.6" r="8.3"/><circle cx="300.4" cy="393.7" r="8.7"/><circle cx="293.5" cy="405.7" r="8.9"/><circle cx="288.2" cy="360.4" r="10.3"/><circle cx="284.8" cy="443.3" r="7.7"/><circle cx="291.8" cy="419.6" r="8.2"/><circle cx="303.0" cy="420.2" r="8.8"/><circle cx="291.6" cy="445.9" r="7.8"/><circle cx="268.5" cy="363.1" r="9.5"/><circle cx="272.3" cy="394.4" r="8.5"/><circle cx="309.7" cy="388.0" r="9.1"/><circle cx="299.0" cy="403.5" r="8.6"/><circle cx="288.0" cy="384.3" r="9.4"/><circle cx="311.8" cy="267.5" r="10.8"/><circle cx="288.6" cy="426.4" r="8.5"/><circle cx="276.4" cy="391.7" r="9.1"/><circle cx="271.4" cy="363.3" r="8.9"/><circle cx="295.0" cy="292.1" r="11.0"/><circle cx="296.4" cy="454.4" r="7.9"/><circle cx="285.6" cy="444.0" r="8.1"/><circle cx="314.0" cy="467.9" r="7.2"/><circle cx="311.4" cy="330.6" r="10.9"/><circle cx="314.3" cy="467.4" r="7.8"/><circle cx="301.9" cy="423.4" r="8.9"/><circle cx="289.5" cy="468.9" r="7.6"/><circle cx="312.8" cy="398.9" r="9.2"/><circle cx="312.5" cy="413.4" r="8.9"/><circle cx="311.6" cy="362.8" r="9.6"/><circle cx="285.6" cy="464.5" r="7.2"/><circle cx="281.6" cy="377.0" r="9.7"/><circle cx="295.9" cy="464.8" r="8.0"/><circle cx="312.6" cy="271.1" r="10.3"/><circle cx="279.6" cy="396.9" r="8.3"/><circle cx="302.3" cy="320.9" r="9.6"/><circle cx="276.6" cy="332.4" r="10.4"/><circle cx="287.4" cy="448.3" r="7.5"/><circle cx="278.4" cy="444.8" r="7.4"/><circle cx="295.1" cy="473.7" r="7.2"/><circle cx="287.3" cy="448.4" r="7.3"/><circle cx="312.4" cy="435.7" r="8.0"/><circle cx="314.3" cy="458.4" r="7.8"/><circle cx="279.5" cy="434.4" r="8.3"/><circle cx="284.6" cy="445.0" r="7.7"/><circle cx="297.4" cy="445.4" r="8.0"/><circle cx="305.0" cy="265.6" r="11.0"/><circle cx="304.9" cy="401.6" r="9.0"/><circle cx="304.1" cy="405.1" r="9.0"/><circle cx="311.9" cy="361.3" r="10.3"/><circle cx="286.5" cy="435.1" r="7.8"/><circle cx="293.2" cy="438.2" r="7.6"/><circle cx="285.0" cy="387.3" r="8.8"/><circle cx="306.9" cy="438.3" r="8.3"/><circle cx="313.3" cy="374.2" r="8.9"/><circle cx="312.4" cy="389.5" r="9.5"/><circle cx="293.9" cy="401.4" r="8.8"/><circle cx="269.2" cy="314.1" r="11.3"/><circle cx="313.6" cy="381.3" r="8.8"/><circle cx="302.0" cy="465.2" r="7.7"/><circle cx="295.2" cy="332.2" r="10.0"/><circle cx="286.0" cy="391.1" r="9.5"/><circle cx="278.4" cy="379.1" r="9.6"/><circle cx="301.4" cy="398.6" r="8.8"/><circle cx="275.6" cy="377.2" r="9.1"/><circle cx="308.3" cy="378.1" r="9.7"/><circle cx="294.9" cy="471.7" r="7.0"/><circle cx="283.4" cy="386.3" r="8.8"/><circle cx="301.9" cy="466.8" r="7.5"/><circle cx="285.9" cy="448.2" r="8.1"/><circle cx="301.6" cy="262.2" r="10.4"/><circle cx="294.8" cy="470.4" r="7.7"/><circle cx="288.2" cy="461.7" r="7.7"/><circle cx="298.3" cy="360.6" r="9.6"/><circle cx="309.3" cy="351.6" r="9.9"/><circle cx="303.0" cy="287.6" r="10.1"/><circle cx="264.5" cy="349.1" r="10.3"/><circle cx="285.5" cy="300.8" r="10.4"/><circle cx="311.5" cy="307.7" r="10.4"/><circle cx="279.3" cy="412.4" r="8.1"/><circle cx="279.5" cy="363.1" r="10.3"/><circle cx="288.9" cy="380.3" r="9.9"/><circle cx="291.5" cy="435.2" r="8.6"/><circle cx="280.6" cy="400.0" r="8.8"/><circle cx="307.9" cy="310.6" r="10.5"/><circle cx="304.9" cy="311.6" r="9.9"/><circle cx="301.8" cy="328.9" r="9.8"/><circle cx="272.2" cy="369.6" r="8.9"/><circle cx="306.6" cy="444.0" r="7.7"/><circle cx="311.2" cy="311.5" r="10.7"/><circle cx="292.4" cy="353.2" r="9.0"/><circle cx="311.7" cy="279.4" r="10.3"/><circle cx="299.6" cy="292.4" r="10.2"/><circle cx="307.0" cy="344.3" r="10.3"/><circle cx="291.7" cy="376.0" r="9.6"/><circle cx="283.2" cy="364.6" r="9.6"/><circle cx="286.8" cy="432.2" r="7.9"/><circle cx="266.7" cy="350.8" r="9.3"/><circle cx="291.8" cy="409.0" r="8.3"/><circle cx="304.7" cy="305.8" r="11.4"/><circle cx="301.8" cy="354.2" r="9.4"/><circle cx="300.9" cy="460.8" r="7.3"/><circle cx="294.7" cy="382.0" r="9.4"/><circle cx="288.4" cy="309.3" r="9.9"/><circle cx="293.8" cy="464.6" r="7.2"/><circle cx="313.7" cy="413.0" r="8.4"/><circle cx="271.1" cy="306.9" r="10.1"/><circle cx="287.0" cy="398.8" r="9.4"/><circle cx="294.0" cy="258.8" r="11.7"/><circle cx="312.2" cy="341.9" r="10.2"/><circle cx="313.6" cy="421.3" r="8.3"/><circle cx="310.8" cy="323.8" r="10.9"/><circle cx="314.1" cy="394.2" r="8.7"/><circle cx="310.5" cy="451.9" r="7.7"/><circle cx="288.2" cy="434.3" r="8.3"/><circle cx="301.8" cy="467.2" r="8.0"/><circle cx="303.2" cy="458.7" r="7.8"/><circle cx="280.4" cy="365.5" r="9.1"/><circle cx="307.6" cy="449.8" r="8.2"/><circle cx="278.6" cy="370.4" r="10.2"/><circle cx="314.1" cy="428.8" r="7.7"/><circle cx="308.4" cy="437.0" r="8.0"/><circle cx="311.8" cy="292.8" r="10.9"/><circle cx="295.0" cy="324.1" r="10.0"/><circle cx="284.0" cy="263.9" r="11.6"/><circle cx="303.2" cy="327.6" r="11.0"/><circle cx="303.3" cy="337.8" r="9.5"/><circle cx="305.1" cy="423.0" r="8.5"/><circle cx="286.5" cy="399.7" r="8.8"/><circle cx="282.2" cy="467.8" r="7.0"/><circle cx="298.0" cy="318.9" r="10.5"/><circle cx="292.0" cy="440.7" r="7.4"/><circle cx="312.7" cy="461.0" r="7.7"/><circle cx="264.5" cy="368.3" r="9.5"/><circle cx="295.2" cy="453.8" r="8.1"/><circle cx="288.0" cy="424.0" r="8.0"/><circle cx="290.9" cy="469.2" r="7.8"/><circle cx="290.9" cy="332.4" r="11.0"/><circle cx="305.6" cy="336.1" r="10.6"/><circle cx="274.9" cy="466.2" r="8.0"/><circle cx="265.0" cy="153.6" r="12.3"/><circle cx="260.7" cy="140.4" r="12.3"/><circle cx="298.8" cy="103.7" r="12.6"/><circle cx="298.8" cy="98.0" r="12.6"/><circle cx="256.3" cy="108.0" r="13.1"/><circle cx="295.7" cy="124.7" r="12.8"/><circle cx="281.7" cy="128.2" r="12.3"/><circle cx="258.0" cy="130.8" r="12.6"/><circle cx="272.6" cy="131.7" r="13.1"/><circle cx="271.2" cy="122.9" r="11.9"/><circle cx="258.0" cy="161.5" r="12.6"/><circle cx="301.8" cy="163.2" r="13.1"/><circle cx="279.0" cy="165.8" r="12.6"/><circle cx="294.0" cy="164.0" r="13.1"/><circle cx="264.2" cy="168.5" r="13.1"/><circle cx="263.3" cy="179.3" r="12.3"/><circle cx="293.4" cy="178.4" r="12.3"/><circle cx="265.0" cy="191.5" r="11.9"/><circle cx="303.6" cy="197.7" r="10.5"/><circle cx="259.8" cy="197.7" r="11.9"/><circle cx="261.5" cy="201.2" r="11.9"/><circle cx="309.7" cy="209.0" r="11.4"/><circle cx="303.6" cy="212.6" r="11.9"/><circle cx="287.0" cy="203.8" r="11.4"/><circle cx="298.3" cy="202.0" r="11.4"/><circle cx="267.7" cy="216.0" r="11.9"/><circle cx="270.6" cy="212.6" r="11.0"/><circle cx="303.6" cy="230.0" r="11.4"/><circle cx="289.6" cy="227.4" r="11.0"/><circle cx="259.8" cy="237.0" r="12.3"/><circle cx="287.8" cy="243.2" r="10.9"/><circle cx="282.0" cy="238.0" r="10.5"/><circle cx="260.3" cy="240.0" r="9.6"/><circle cx="281.3" cy="240.0" r="10.5"/><circle cx="288.3" cy="245.3" r="10.2"/><circle cx="295.3" cy="250.5" r="11.4"/><circle cx="309.7" cy="253.7" r="11.4"/><circle cx="295.7" cy="255.5" r="11.4"/><circle cx="264.2" cy="261.6" r="11.9"/><circle cx="304.5" cy="265.0" r="10.5"/><circle cx="311.1" cy="252.3" r="10.5"/><circle cx="263.8" cy="261.9" r="11.9"/><circle cx="305.0" cy="265.4" r="10.9"/><circle cx="275.2" cy="274.2" r="10.5"/><circle cx="311.1" cy="278.5" r="10.5"/><circle cx="311.1" cy="289.0" r="10.2"/><circle cx="262.9" cy="289.9" r="12.3"/><circle cx="297.1" cy="287.3" r="10.9"/><circle cx="286.6" cy="301.3" r="8.8"/><circle cx="295.3" cy="299.6" r="9.6"/><circle cx="263.8" cy="304.0" r="10.2"/><circle cx="272.6" cy="307.5" r="10.5"/><circle cx="255.9" cy="310.1" r="11.4"/><circle cx="311.1" cy="310.1" r="9.6"/><circle cx="288.3" cy="317.1" r="9.6"/><circle cx="297.1" cy="317.1" r="10.2"/><circle cx="262.0" cy="324.1" r="9.6"/><circle cx="276.1" cy="324.1" r="10.2"/><circle cx="309.4" cy="328.5" r="9.6"/><circle cx="274.3" cy="334.6" r="10.2"/><circle cx="246.3" cy="343.7" r="9.6"/><circle cx="244.5" cy="341.0" r="10.2"/><circle cx="262.0" cy="327.0" r="9.6"/><circle cx="256.8" cy="363.8" r="9.6"/><circle cx="267.3" cy="374.3" r="8.8"/><circle cx="271.7" cy="380.4" r="8.4"/><circle cx="272.6" cy="393.6" r="8.4"/><circle cx="270.8" cy="407.6" r="8.4"/><circle cx="267.3" cy="419.9" r="7.9"/><circle cx="209.8" cy="416.2" r="9.8"/><circle cx="210.4" cy="427.8" r="9.8"/><circle cx="250.3" cy="434.3" r="9.2"/><circle cx="233.5" cy="452.3" r="9.0"/><circle cx="270.7" cy="396.1" r="9.2"/><circle cx="273.8" cy="408.4" r="9.2"/><circle cx="266.6" cy="425.2" r="9.8"/><circle cx="268.7" cy="425.8" r="8.6"/><circle cx="271.8" cy="449.3" r="9.2"/><circle cx="281.0" cy="447.2" r="8.2"/><circle cx="273.8" cy="467.7" r="8.6"/><circle cx="288.1" cy="471.7" r="8.6"/><circle cx="300.4" cy="473.8" r="8.6"/><circle cx="312.6" cy="471.7" r="8.6"/></g>
<line x1="39.3" x2="601.5" y1="474.9" y2="474.9" stroke="#222" stroke-width="1.85" stroke-dasharray="5.3 5.45"/>
</g>
<rect x="39.15" y="31.7" width="562.35" height="522.65" fill="none" stroke="#404040" stroke-width="1.1"/>
<g stroke="#404040" stroke-width="1.25"><line x1="67.6" x2="67.6" y1="554.3" y2="558.0"/><line x1="193.9" x2="193.9" y1="554.3" y2="558.0"/><line x1="320.2" x2="320.2" y1="554.3" y2="558.0"/><line x1="446.5" x2="446.5" y1="554.3" y2="558.0"/><line x1="572.8" x2="572.8" y1="554.3" y2="558.0"/><line x1="35.4" x2="39.15" y1="530.7" y2="530.7"/><line x1="35.4" x2="39.15" y1="401.6" y2="401.6"/><line x1="35.4" x2="39.15" y1="272.5" y2="272.5"/><line x1="35.4" x2="39.15" y1="143.3" y2="143.3"/></g>
<g font-family="Liberation Sans, sans-serif" font-size="16.5" fill="#000"><text x="67.4" y="573.6" text-anchor="middle">-10</text><text x="193.7" y="573.6" text-anchor="middle">-5</text><text x="320.2" y="573.6" text-anchor="middle">0</text><text x="446.5" y="573.6" text-anchor="middle">5</text><text x="572.8" y="573.6" text-anchor="middle">10</text><text x="32.1" y="536.9" text-anchor="end">0</text><text x="32.1" y="407.8" text-anchor="end">3</text><text x="32.1" y="278.7" text-anchor="end">6</text><text x="32.1" y="149.5" text-anchor="end">9</text></g>
<text x="320.2" y="18.7" text-anchor="middle" font-family="Liberation Sans, sans-serif" font-weight="bold" font-size="24.4" fill="#000">TD-vs-ASD volcano plot</text>
<text x="320.5" y="596.4" text-anchor="middle" font-family="Liberation Sans, sans-serif" font-weight="bold" font-size="19.5" fill="#000">log2(fc)</text>
<text transform="translate(15.4,293.3) rotate(-90)" text-anchor="middle" font-family="Liberation Sans, sans-serif" font-weight="bold" font-size="19.5" fill="#000">-log10(Pvalue)</text>
<g font-family="Liberation Sans, sans-serif" font-size="13.4" fill="#000"><text x="622.6" y="194.8">color</text><text x="622.6" y="308.8">vip</text></g>
<g font-family="Liberation Sans, sans-serif" font-size="14.67" fill="#000">
<text x="651.3" y="219.4">up</text><text x="651.3" y="241.3">nosig</text><text x="651.3" y="263.2">down</text>
<text x="664.6" y="332.8">1</text><text x="664.6" y="358.4">2</text><text x="664.6" y="390.0">3</text>
</g>
<g stroke="#555" stroke-width="0.4"><circle cx="633.6" cy="214.9" r="2.6" fill="#F8766D"/><circle cx="633.6" cy="236.6" r="2.6" fill="#bebebe" fill-opacity="0.8"/><circle cx="633.6" cy="258.5" r="2.6" fill="#619CFF"/></g>
<g fill="#fff" stroke="#555" stroke-width="0.55"><circle cx="640.3" cy="327.9" r="8.0"/><circle cx="640.3" cy="353.4" r="11.1"/><circle cx="640.3" cy="385.0" r="13.6"/></g>
</svg>
</body></html>
